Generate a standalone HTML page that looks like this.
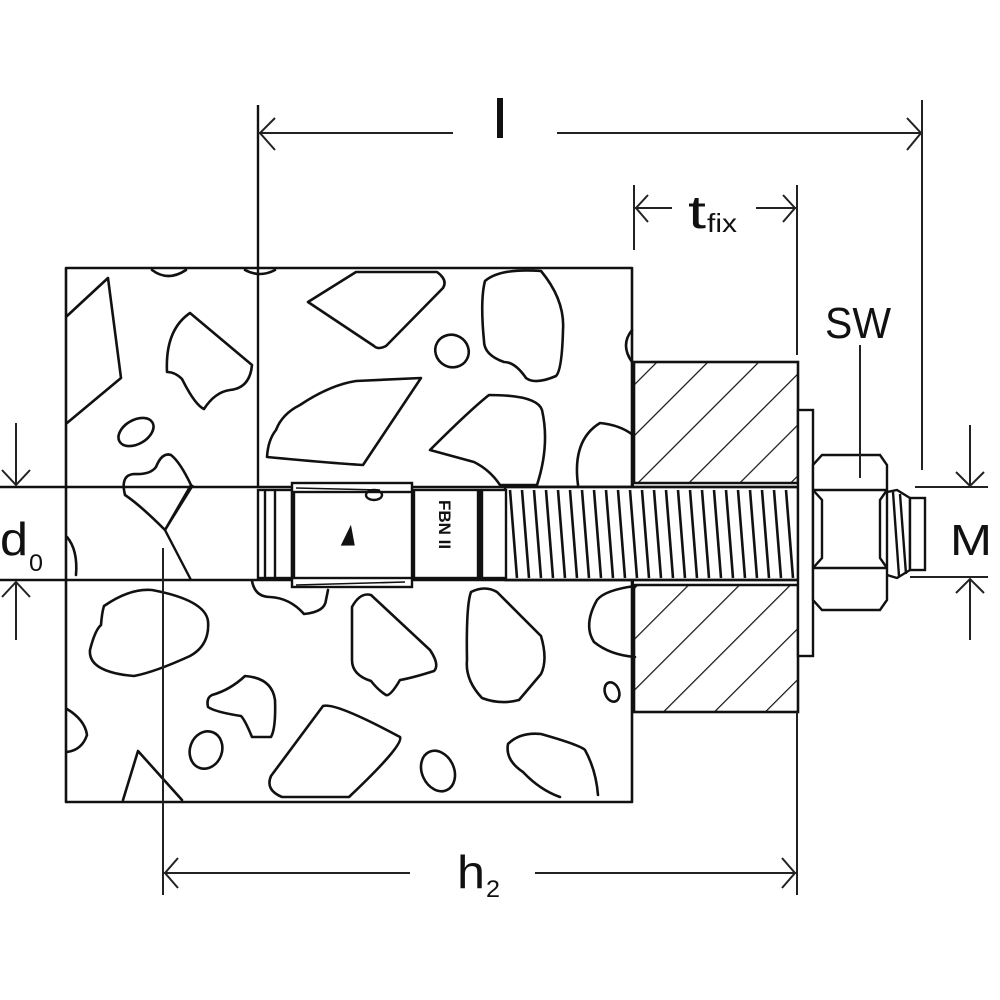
<!DOCTYPE html>
<html><head><meta charset="utf-8"><style>
html,body{margin:0;padding:0;background:#fff;width:1000px;height:1000px;overflow:hidden}
svg{display:block}
text{font-family:"Liberation Sans",sans-serif;fill:#111}
</style></head><body>
<svg width="1000" height="1000" viewBox="0 0 1000 1000" xmlns="http://www.w3.org/2000/svg">
<defs>
<pattern id="h" patternUnits="userSpaceOnUse" width="36" height="36" patternTransform="rotate(45)">
<line x1="0" y1="0" x2="0" y2="36" stroke="#111" stroke-width="2.4"/>
</pattern>
</defs>
<g fill="none" stroke="#111" stroke-width="2.6" stroke-linejoin="round" stroke-linecap="round">
<rect x="66" y="268" width="566" height="534"/>
<path d="M67,316 L108,278 L121,378 L67,423"/>
<path d="M190,313 L252,365 Q250,388 230,390 Q215,392 204,409 Q195,405 182,379 Q175,372 167,372 Q165,330 190,313Z"/>
<ellipse cx="136" cy="432" rx="19" ry="12" transform="rotate(-30 136 432)"/>
<path d="M171,455 Q180,462 191,485 L165,530 Q140,505 125,495 Q120,475 134,474 Q150,475 156,467 Q162,452 171,455Z"/>
<path d="M308,302 L356,272 L437,272 Q448,280 443,288 L386,346 Q378,350 374,346Z"/>
<path d="M485,281 Q500,268 541,271 Q565,300 563,330 Q562,370 556,376 Q535,385 526,378 Q515,362 504,362 Q484,355 484,341 Q480,300 485,281Z"/>
<ellipse cx="452" cy="351" rx="17" ry="16" transform="rotate(30 452 351)"/>
<path d="M267,457 Q268,440 276,430 Q282,414 300,405 Q330,385 356,381 L421,378 L363,465 Q330,463 267,457Z"/>
<path d="M430,450 Q470,410 489,395 Q537,395 542,410 Q550,445 537,485 L500,485 Q490,470 474,462 Z"/>
<path d="M578,485 Q572,440 600,423 Q620,425 633,435"/>
<path d="M632,330 Q620,345 632,362"/>
<path d="M252,581 Q255,597 270,597 Q290,598 304,614 Q325,612 326,600 L328,590"/>
<path d="M104,606 Q130,588 152,590 Q205,600 208,621 Q210,645 190,656 Q155,672 134,676 Q88,672 90,650 Q95,630 101,625 Q102,612 104,606Z"/>
<path d="M352,607 Q360,592 371,595 L430,650 Q440,665 434,671 Q412,678 400,680 Q390,697 386,695 Q378,690 371,681 Q352,675 352,660Z"/>
<path d="M471,592 Q485,585 497,592 L541,636 Q548,660 541,674 L519,700 Q500,705 482,698 Q465,680 467,660 Q466,605 471,592Z"/>
<path d="M635,586 Q605,590 597,600 Q583,625 594,642 Q610,655 635,657"/>
<ellipse cx="612" cy="692" rx="7" ry="10" transform="rotate(-20 612 692)"/>
<path d="M212,695 Q230,690 245,676 Q272,678 275,700 Q276,728 271,737 L252,737 Q245,720 241,716 Q215,712 208,707 Q206,698 212,695Z"/>
<ellipse cx="206" cy="750" rx="16" ry="19" transform="rotate(20 206 750)"/>
<path d="M271,776 L323,706 Q335,702 400,737 Q404,745 349,797 L282,797 Q265,790 271,776Z"/>
<ellipse cx="438" cy="771" rx="16" ry="21" transform="rotate(-25 438 771)"/>
<path d="M508,744 Q520,732 541,734 Q580,745 585,750 Q596,770 598,795 M560,797 Q540,790 523,772 Q505,760 508,744"/>
<path d="M67,709 Q85,720 87,735 Q82,750 67,752"/>
<path d="M123,800 L138,751 L182,800"/>
<path d="M67,537 Q78,550 76,575"/>
<path d="M152,270 Q168,282 186,270"/>
<path d="M245,270 Q260,278 275,270"/>
</g>
<rect x="190" y="487" width="444" height="93" fill="#fff"/>
<g fill="none" stroke="#111" stroke-width="2.4">
<line x1="0" y1="487" x2="800" y2="487"/>
<line x1="0" y1="580" x2="800" y2="580"/>
<path d="M193,485 L165,530 L191,580"/>
<line x1="258" y1="105" x2="258" y2="487"/>
</g>
<rect x="634" y="362" width="164" height="350" fill="url(#h)" stroke="#111" stroke-width="2.6"/>
<rect x="634" y="483" width="164" height="102" fill="#fff"/>
<g fill="none" stroke="#111" stroke-width="2.4">
<line x1="634" y1="483" x2="798" y2="483"/>
<line x1="634" y1="585" x2="798" y2="585"/>
<rect x="505" y="487" width="293" height="93" fill="#fff"/>
<line x1="505" y1="487" x2="798" y2="487"/>
<line x1="505" y1="580" x2="798" y2="580"/>
<path stroke-width="2.6" d="M510,490 l7,88 M522,490 l7,88 M534,490 l7,88 M546,490 l7,88 M558,490 l7,88 M570,490 l7,88 M582,490 l7,88 M594,490 l7,88 M606,490 l7,88 M618,490 l7,88 M630,490 l7,88 M642,490 l7,88 M654,490 l7,88 M666,490 l7,88 M678,490 l7,88 M690,490 l7,88 M702,490 l7,88 M714,490 l7,88 M726,490 l7,88 M738,490 l7,88 M750,490 l7,88 M762,490 l7,88 M774,490 l7,88 M786,490 l7,88"/>
<rect x="258" y="490" width="34" height="88" fill="#fff"/>
<line x1="265" y1="490" x2="265" y2="578"/>
<line x1="275" y1="490" x2="275" y2="578"/>
<rect x="292" y="483" width="120" height="104" fill="#fff"/>
<rect x="294" y="492" width="118" height="86" fill="#fff"/>
<path d="M296,488 L380,490" stroke-width="1.6"/>
<path d="M296,585 L405,582" stroke-width="1.6"/>
<ellipse cx="374" cy="495" rx="8" ry="5"/>
<rect x="414" y="490" width="66" height="88" fill="#fff"/>
<rect x="482" y="490" width="24" height="88" fill="#fff"/>
<line x1="478" y1="490" x2="478" y2="578"/>
<rect x="798" y="410" width="15" height="246" fill="#fff"/>
<path d="M822,455 L880,455 L887,465 L887,600 L880,610 L822,610 L813,600 L813,465 Z" fill="#fff"/>
<line x1="813" y1="490" x2="887" y2="490"/>
<line x1="813" y1="568" x2="887" y2="568"/>
<path d="M813,490 L822,500 L822,558 L813,568 M887,490 L880,500 L880,558 L887,568"/>
<path d="M887,492 L897,490 L910,498 L910,570 L897,578 L887,575"/>
<path d="M893,492 l6,84 M900,494 l6,80"/>
<rect x="910" y="498" width="15" height="72" fill="#fff"/>
</g>
<text x="0" y="0" font-size="17" font-weight="bold" transform="translate(439,500) rotate(90)" fill="#111">FBN II</text>
<path d="M340,545 L352,525 L354,546 Z" fill="#111" transform="rotate(-5 348 537)"/>
<g fill="none" stroke="#222" stroke-width="2">
<line x1="922" y1="100" x2="922" y2="470"/>
<line x1="258" y1="133" x2="453" y2="133"/>
<line x1="557" y1="133" x2="922" y2="133"/>
<path d="M275,118 L260,133 L275,150 M907,118 L921,133 L907,150"/>
<line x1="634" y1="185" x2="634" y2="250"/>
<line x1="797" y1="185" x2="797" y2="355"/>
<line x1="634" y1="208" x2="672" y2="208"/>
<line x1="756" y1="208" x2="797" y2="208"/>
<path d="M648,195 L636,208 L648,222 M783,195 L795,208 L783,222"/>
<line x1="163" y1="548" x2="163" y2="895"/>
<line x1="797" y1="712" x2="797" y2="895"/>
<line x1="163" y1="873" x2="410" y2="873"/>
<line x1="535" y1="873" x2="797" y2="873"/>
<path d="M178,858 L165,873 L178,888 M782,858 L795,873 L782,888"/>
<line x1="16" y1="423" x2="16" y2="485"/>
<path d="M2,470 L16,485 L30,470"/>
<line x1="16" y1="582" x2="16" y2="640"/>
<path d="M2,597 L16,582 L30,597"/>
<line x1="915" y1="487" x2="988" y2="487"/>
<line x1="910" y1="577" x2="988" y2="577"/>
<line x1="970" y1="425" x2="970" y2="485"/>
<path d="M956,472 L970,486 L984,472"/>
<line x1="970" y1="579" x2="970" y2="640"/>
<path d="M956,593 L970,579 L984,593"/>
<line x1="860" y1="345" x2="860" y2="478"/>
</g>
<rect x="497" y="98" width="6" height="40" fill="#111"/>
<text x="688" y="228" font-size="46" textLength="18" lengthAdjust="spacingAndGlyphs">t</text>
<text x="707" y="232" font-size="26" textLength="30" lengthAdjust="spacingAndGlyphs">fix</text>
<text x="825" y="338" font-size="44" textLength="66" lengthAdjust="spacingAndGlyphs">SW</text>
<text x="950" y="555" font-size="44" textLength="42" lengthAdjust="spacingAndGlyphs">M</text>
<text x="0" y="555" font-size="46" textLength="28" lengthAdjust="spacingAndGlyphs">d</text>
<text x="29" y="571" font-size="24" textLength="14" lengthAdjust="spacingAndGlyphs">0</text>
<text x="457" y="888" font-size="46" textLength="28" lengthAdjust="spacingAndGlyphs">h</text>
<text x="486" y="897" font-size="24" textLength="14" lengthAdjust="spacingAndGlyphs">2</text>
</svg>
</body></html>
